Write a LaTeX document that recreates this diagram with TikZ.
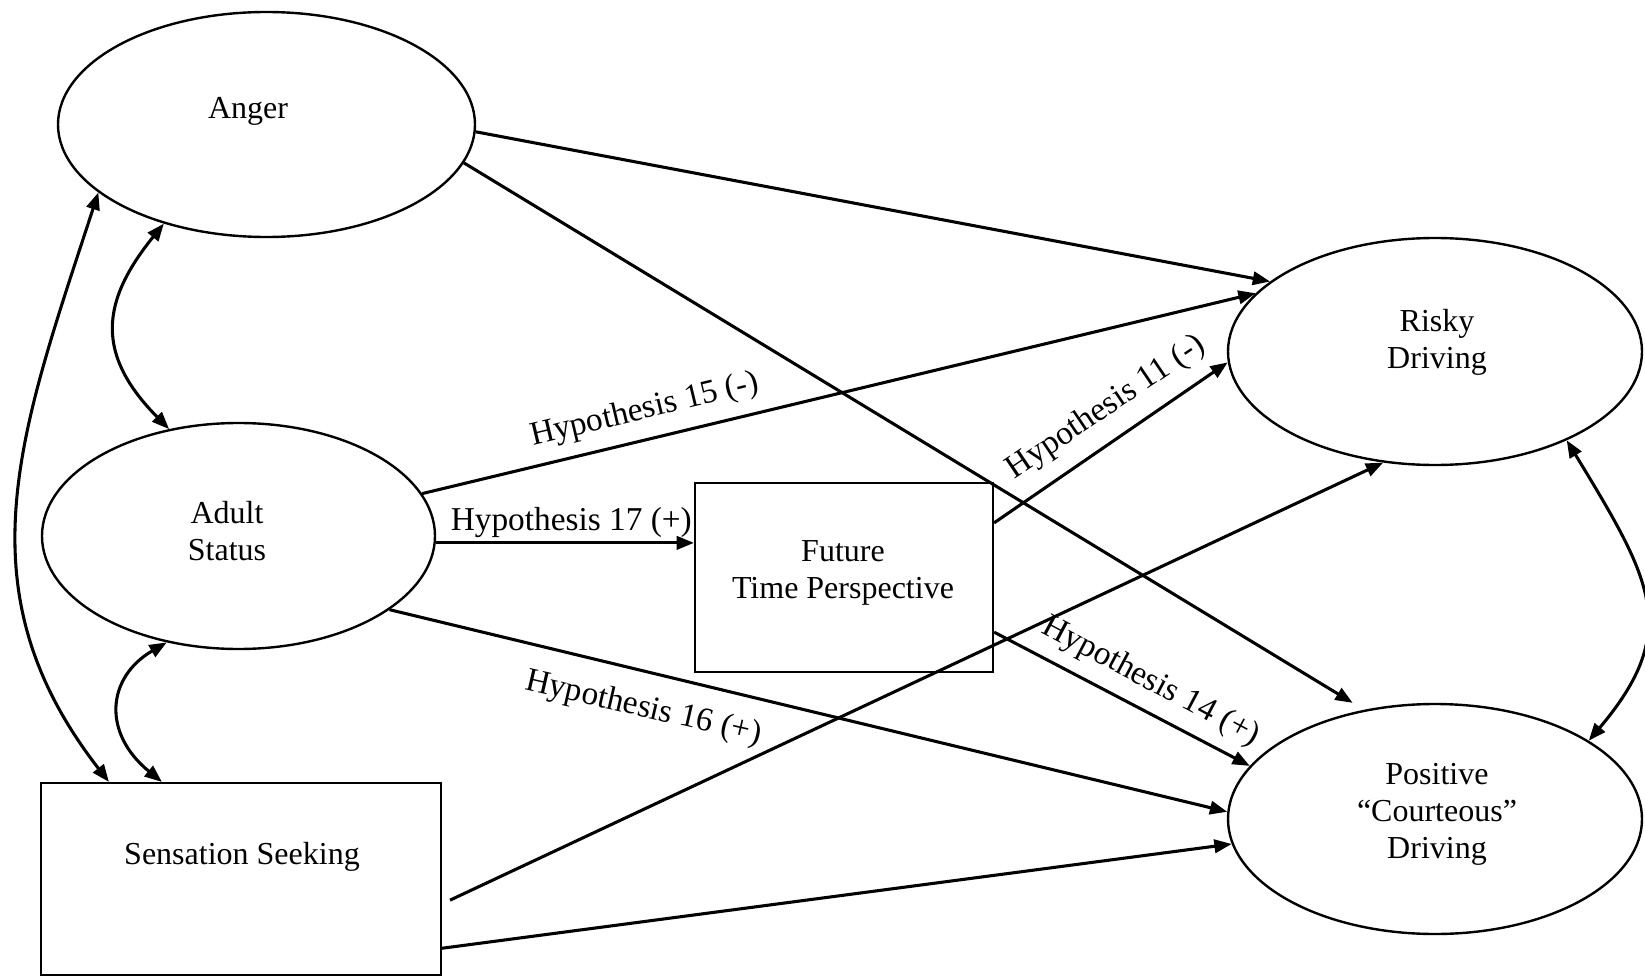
\documentclass[tikz,border=0pt]{standalone}
\usepackage{fontspec}
\setmainfont{Liberation Serif}
\usetikzlibrary{shapes}
\usetikzlibrary{arrows.meta}

\begin{document}
\begin{tikzpicture}[x=0.75pt,y=0.75pt,yscale=-1,xscale=1,
  latent/.style={draw, ellipse, line width=1.8pt, inner sep=0pt},
  measured/.style={draw, rectangle, line width=1.6pt, inner sep=0pt},
  vname/.style={anchor=base, align=center, inner sep=0.75pt, font=\fontsize{24}{27.75}\selectfont},
  arr/.style={line width=2.3pt, -{Triangle[length=13pt,width=10pt]}},
  cov/.style={line width=2.3pt, {Triangle[length=13pt,width=10pt]}-{Triangle[length=13pt,width=10pt]}},
  hyp/.style={font=\fontsize{25}{30}\selectfont}]
\useasboundingbox (0,0) rectangle (1645,977);

%Shape: Ellipse
\node [latent, minimum width=312.75pt, minimum height=168.75pt] (anger) at (266.5,124.5) {};
%Shape: Ellipse
\node [latent, minimum width=294.75pt, minimum height=169.5pt] (adult) at (238.5,536) {};
%Shape: Ellipse
\node [latent, minimum width=310.5pt, minimum height=170.25pt] (risky) at (1435,351.5) {};
%Shape: Ellipse
\node [latent, minimum width=310.5pt, minimum height=172.5pt] (positive) at (1435,819) {};
%Shape: Rectangle
\node [measured, minimum width=300pt, minimum height=144pt] (sens) at (241,879) {};
%Shape: Rectangle
\node [measured, minimum width=223.5pt, minimum height=141.75pt] (ftp) at (844,577.5) {};

% Text Node
\node [vname] (anger-t) at (248,119) {Anger};
% Text Node
\node [vname] (adult-t) at (227,560.5) {Adult\\Status};
% Text Node
\node [vname] (sens-t) at (242,864) {Sensation Seeking};
% Text Node
\node [vname] (ftp-t) at (843,598) {Future\\Time Perspective};
% Text Node
\node [vname] (risky-t) at (1437,368) {Risky\\Driving};
% Text Node
\node [vname] (positive-t) at (1437,858) {Positive\\“Courteous”\\Driving};

%Straight Lines
\draw [arr] (anger.-2) -- (risky.157);
%Straight Lines
\draw [arr, shorten >=10pt] (anger.-11) -- (positive.123);
%Straight Lines
\draw [arr] (adult.13) -- node [hyp, pos=0.275, above, inner sep=9pt, rotate=13.5] {Hypothesis 15 (-)} (risky.162);
%Straight Lines
\draw [arr] (adult.-2) -- node [hyp, pos=0.525, above, inner sep=3pt] {Hypothesis 17 (+)} (adult.-2 -| ftp.west);
%Straight Lines
\draw [arr] (adult.-26) -- node [hyp, pos=0.313, below, inner sep=15pt, rotate=-13] {Hypothesis 16 (+)} (positive.178);
%Straight Lines
\draw [arr] (ftp.20) -- node [hyp, pos=0.555, above, inner sep=11pt, rotate=34] {Hypothesis 11 (-)} (risky.-177);
%Straight Lines
\draw [arr] (ftp.-20) -- node [hyp, pos=0.56, above, inner sep=9pt, rotate=-28] {Hypothesis 14 (+)} (positive.164);
%Straight Lines
\draw [arr] ([xshift=6pt]sens.-6) -- (risky.-115);
%Straight Lines
\draw [arr] (sens.-19.5) -- (positive.-173);

%Curve Lines
\draw [cov] (anger.-158.5) .. controls +(-78,239) and +(-150,-193) .. ([xshift=51.75pt]sens.north west);
%Curve Lines
\draw [cov] (anger.-136.7) .. controls +(-63,78) and +(-74,-75) .. (adult.123);
%Curve Lines
\draw [cov] (adult.-124.7) .. controls +(-60,35) and +(-60,-49) .. ([xshift=91.5pt]sens.north west);
%Curve Lines
\draw [cov] (risky.-34) .. controls +(85,140) and +(93,-110) .. (positive.27);

\end{tikzpicture}
\end{document}
